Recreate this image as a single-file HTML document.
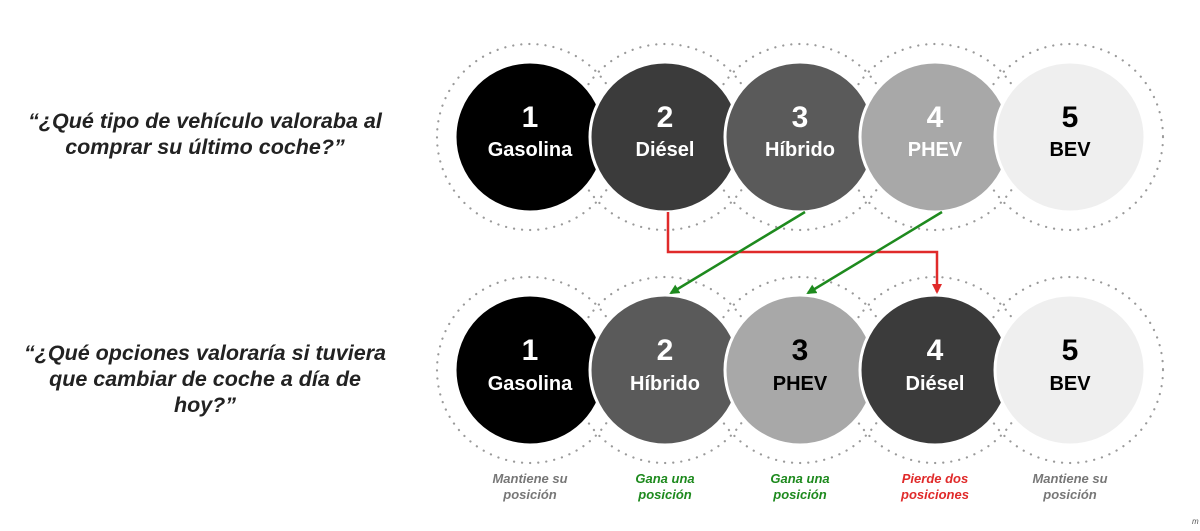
<!DOCTYPE html>
<html><head><meta charset="utf-8"><style>
html,body{margin:0;padding:0;background:#fff;width:1200px;height:531px;overflow:hidden}
svg{display:block}
</style></head><body>
<svg width="1200" height="531" viewBox="0 0 1200 531" xmlns="http://www.w3.org/2000/svg" font-family="Liberation Sans, Arial, sans-serif">
<defs>
<marker id="ag" markerWidth="10" markerHeight="10" refX="8" refY="5" orient="auto" markerUnits="userSpaceOnUse"><path d="M0,0 L10,5 L0,10 Z" fill="#1e8a1e"/></marker>
<marker id="ar" markerWidth="10" markerHeight="10" refX="8" refY="5" orient="auto" markerUnits="userSpaceOnUse"><path d="M0,0 L10,5 L0,10 Z" fill="#e02a2a"/></marker>
</defs>
<g font-style="italic" font-weight="bold" font-size="21.5" fill="#222" text-anchor="middle">
<text x="205" y="128">“¿Qué tipo de vehículo valoraba al</text>
<text x="205" y="154">comprar su último coche?”</text>
<text x="205" y="360">“¿Qué opciones valoraría si tuviera</text>
<text x="205" y="386">que cambiar de coche a día de</text>
<text x="205" y="412">hoy?”</text>
</g>
<g fill="none" stroke="#9a9a9a" stroke-width="2.2" stroke-dasharray="0.1 8" stroke-linecap="round">
<circle cx="530" cy="137" r="93"/><circle cx="665" cy="137" r="93"/><circle cx="800" cy="137" r="93"/><circle cx="935" cy="137" r="93"/><circle cx="1070" cy="137" r="93"/>
<circle cx="530" cy="370" r="93"/><circle cx="665" cy="370" r="93"/><circle cx="800" cy="370" r="93"/><circle cx="935" cy="370" r="93"/><circle cx="1070" cy="370" r="93"/>
</g>
<g stroke="#fff" stroke-width="3">
<circle cx="530" cy="137" r="75" fill="#000"/>
<circle cx="665" cy="137" r="75" fill="#3b3b3b"/>
<circle cx="800" cy="137" r="75" fill="#5a5a5a"/>
<circle cx="935" cy="137" r="75" fill="#a8a8a8"/>
<circle cx="1070" cy="137" r="75" fill="#efefef"/>
<circle cx="530" cy="370" r="75" fill="#000"/>
<circle cx="665" cy="370" r="75" fill="#5a5a5a"/>
<circle cx="800" cy="370" r="75" fill="#a8a8a8"/>
<circle cx="935" cy="370" r="75" fill="#3b3b3b"/>
<circle cx="1070" cy="370" r="75" fill="#efefef"/>
</g>
<g font-weight="bold" text-anchor="middle">
<g font-size="30"><text x="530" y="127" fill="#fff">1</text><text x="665" y="127" fill="#fff">2</text><text x="800" y="127" fill="#fff">3</text><text x="935" y="127" fill="#fff">4</text><text x="1070" y="127" fill="#000">5</text></g>
<g font-size="20"><text x="530" y="156" fill="#fff">Gasolina</text><text x="665" y="156" fill="#fff">Diésel</text><text x="800" y="156" fill="#fff">Híbrido</text><text x="935" y="156" fill="#fff">PHEV</text><text x="1070" y="156" fill="#000">BEV</text></g>
<g font-size="30"><text x="530" y="360" fill="#fff">1</text><text x="665" y="360" fill="#fff">2</text><text x="800" y="360" fill="#000">3</text><text x="935" y="360" fill="#fff">4</text><text x="1070" y="360" fill="#000">5</text></g>
<g font-size="20"><text x="530" y="390" fill="#fff">Gasolina</text><text x="665" y="390" fill="#fff">Híbrido</text><text x="800" y="390" fill="#000">PHEV</text><text x="935" y="390" fill="#fff">Diésel</text><text x="1070" y="390" fill="#000">BEV</text></g>
</g>
<polyline points="668,212 668,252 937,252 937,292" fill="none" stroke="#e02a2a" stroke-width="2.5" marker-end="url(#ar)"/>
<line x1="805" y1="212" x2="671" y2="293" stroke="#1e8a1e" stroke-width="2.5" marker-end="url(#ag)"/>
<line x1="942" y1="212" x2="808" y2="293" stroke="#1e8a1e" stroke-width="2.5" marker-end="url(#ag)"/>
<g font-style="italic" font-weight="900" font-size="13" text-anchor="middle">
<text x="530" y="483" fill="#777">Mantiene su</text><text x="530" y="499" fill="#777">posición</text>
<text x="665" y="483" fill="#1e8a1e">Gana una</text><text x="665" y="499" fill="#1e8a1e">posición</text>
<text x="800" y="483" fill="#1e8a1e">Gana una</text><text x="800" y="499" fill="#1e8a1e">posición</text>
<text x="935" y="483" fill="#e02a2a">Pierde dos</text><text x="935" y="499" fill="#e02a2a">posiciones</text>
<text x="1070" y="483" fill="#777">Mantiene su</text><text x="1070" y="499" fill="#777">posición</text>
</g>
<text x="1192" y="524" font-size="8" font-style="italic" fill="#555">m</text>
</svg>
</body></html>
